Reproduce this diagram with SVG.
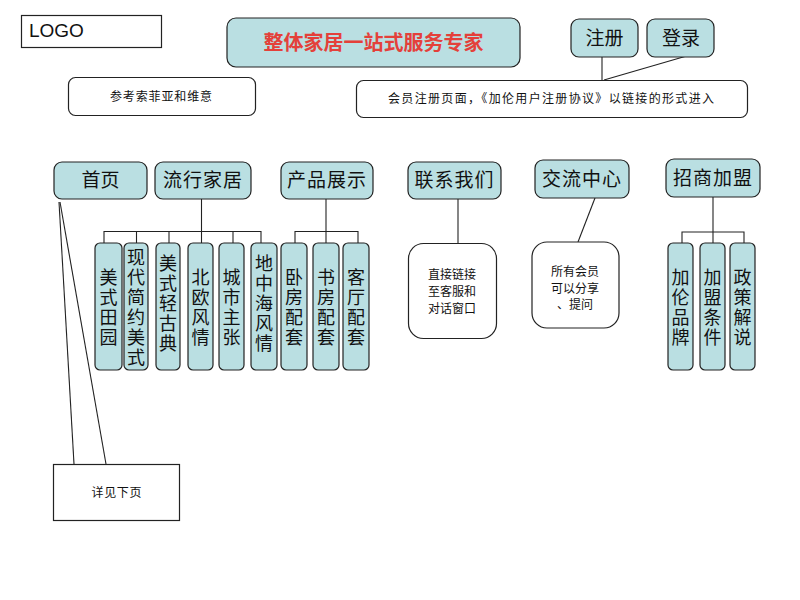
<svg xmlns="http://www.w3.org/2000/svg" width="800" height="600" viewBox="0 0 800 600">
<style>
.bx{fill:#badfe2;stroke:#222;stroke-width:1.2}
.wb{fill:#fff;stroke:#222;stroke-width:1.2}
.ln{stroke:#222;stroke-width:1.1;fill:none}
.t{font-family:"Noto Sans CJK SC","Liberation Sans",sans-serif;fill:#111;text-anchor:middle}
.big{font-size:19px}
.sm{font-size:12px}
.v{font-size:18px;writing-mode:vertical-rl;letter-spacing:2px}
</style>
<rect width="800" height="600" fill="#fff"/>
<g id="connectors">
<line class="ln" x1="602" y1="57" x2="602" y2="80"/>
<line class="ln" x1="690" y1="55" x2="604" y2="80"/>
<line class="ln" x1="201.5" y1="199" x2="201.5" y2="231.5"/>
<polyline class="ln" points="104,243 104,231.5 261,231.5 261,243"/>
<line class="ln" x1="136.5" y1="231.5" x2="136.5" y2="243"/>
<line class="ln" x1="169" y1="231.5" x2="169" y2="243"/>
<line class="ln" x1="201.5" y1="231.5" x2="201.5" y2="243"/>
<line class="ln" x1="233" y1="231.5" x2="233" y2="243"/>
<line class="ln" x1="326" y1="199" x2="326" y2="243"/>
<polyline class="ln" points="295,243 295,231.5 358,231.5 358,243"/>
<line class="ln" x1="458" y1="199" x2="458" y2="243"/>
<line class="ln" x1="595" y1="198" x2="578" y2="242"/>
<line class="ln" x1="713" y1="197" x2="713" y2="243"/>
<polyline class="ln" points="682,243 682,232 744,232 744,243"/>
<line class="ln" x1="59" y1="202" x2="74" y2="464"/>
<line class="ln" x1="60" y1="202" x2="106" y2="464"/>
</g>
<g id="logo">
<rect x="21.5" y="15.5" width="140" height="32" fill="#fff" stroke="#222" stroke-width="1.2"/>
<text x="29" y="37" font-family="Liberation Sans,Arial,sans-serif" font-size="19" fill="#111">LOGO</text>
</g>
<g id="title">
<rect class="bx" x="227" y="18" width="293" height="49" rx="9"/>
<text class="t" x="373.5" y="50" font-size="20" font-weight="bold" style="fill:#e4403a">整体家居一站式服务专家</text>
</g>
<g id="register">
<rect class="bx" x="571" y="19" width="67" height="38" rx="8"/>
<text class="t big" x="604.5" y="45">注册</text>
</g>
<g id="login">
<rect class="bx" x="647" y="19" width="67" height="38" rx="8"/>
<text class="t big" x="681" y="45">登录</text>
</g>
<g id="ref">
<rect class="wb" x="68.5" y="77.5" width="187" height="38" rx="7"/>
<text class="t sm" x="161" y="101" textLength="102" lengthAdjust="spacing">参考索菲亚和维意</text>
</g>
<g id="regnote">
<rect class="wb" x="356.5" y="80.5" width="391" height="37" rx="7"/>
<text class="t sm" x="551" y="103" textLength="326" lengthAdjust="spacing">会员注册页面，《加伦用户注册协议》以链接的形式进入</text>
</g>
<g id="home">
<rect class="bx" x="54" y="162" width="93" height="37" rx="8"/>
<text class="t big" x="100.5" y="187">首页</text>
</g>
<g id="popular">
<rect class="bx" x="155" y="162" width="96" height="37" rx="8"/>
<text class="t big" x="203" y="187" letter-spacing="1">流行家居</text>
</g>
<g id="products">
<rect class="bx" x="281" y="162" width="92" height="37" rx="8"/>
<text class="t big" x="327" y="187" letter-spacing="1">产品展示</text>
</g>
<g id="contact">
<rect class="bx" x="408" y="162" width="93" height="37" rx="8"/>
<text class="t big" x="454.5" y="187" letter-spacing="1">联系我们</text>
</g>
<g id="community">
<rect class="bx" x="535" y="160" width="94" height="38" rx="8"/>
<text class="t big" x="582" y="186" letter-spacing="1">交流中心</text>
</g>
<g id="franchise">
<rect class="bx" x="666" y="159" width="94" height="38" rx="8"/>
<text class="t big" x="713" y="185" letter-spacing="1">招商加盟</text>
</g>
<g id="c1"><rect class="bx" x="95" y="243" width="27" height="127" rx="5"/>
<text class="t v" x="108.5" y="308">美式田园</text></g>
<g id="c2"><rect class="bx" x="124" y="243" width="24" height="127" rx="5"/>
<text class="t v" x="136" y="308">现代简约美式</text></g>
<g id="c3"><rect class="bx" x="156" y="243" width="24" height="127" rx="5"/>
<text class="t v" x="168" y="304">美式轻古典</text></g>
<g id="c4"><rect class="bx" x="188" y="243" width="25" height="127" rx="5"/>
<text class="t v" x="200.5" y="308">北欧风情</text></g>
<g id="c5"><rect class="bx" x="219" y="243" width="25" height="127" rx="5"/>
<text class="t v" x="231.5" y="308">城市主张</text></g>
<g id="c6"><rect class="bx" x="251" y="243" width="26" height="127" rx="5"/>
<text class="t v" x="264" y="304">地中海风情</text></g>
<g id="c7"><rect class="bx" x="281" y="243" width="26" height="127" rx="5"/>
<text class="t v" x="294" y="308">卧房配套</text></g>
<g id="c8"><rect class="bx" x="313" y="243" width="26" height="127" rx="5"/>
<text class="t v" x="326" y="308">书房配套</text></g>
<g id="c9"><rect class="bx" x="343" y="243" width="26" height="127" rx="5"/>
<text class="t v" x="356" y="308">客厅配套</text></g>
<g id="contactnote"><rect class="wb" x="408.5" y="243.5" width="88" height="95" rx="15"/>
<text class="t sm" x="452"><tspan x="452" y="279">直接链接</tspan><tspan x="452" y="296">至客服和</tspan><tspan x="452" y="313">对话窗口</tspan></text></g>
<g id="communitynote"><rect class="wb" x="532" y="242" width="87" height="86" rx="15"/>
<text class="t sm" x="575"><tspan x="575" y="276">所有会员</tspan><tspan x="575" y="293">可以分享</tspan><tspan x="575" y="309">、提问</tspan></text></g>
<g id="f1"><rect class="bx" x="668" y="243" width="25" height="127" rx="5"/>
<text class="t v" x="680.5" y="308">加伦品牌</text></g>
<g id="f2"><rect class="bx" x="700" y="243" width="25" height="127" rx="5"/>
<text class="t v" x="712.5" y="308">加盟条件</text></g>
<g id="f3"><rect class="bx" x="730" y="243" width="25" height="127" rx="5"/>
<text class="t v" x="742.5" y="308">政策解说</text></g>
<g id="detail"><rect x="53.5" y="464.5" width="126" height="56" fill="#fff" stroke="#222" stroke-width="1.2"/>
<text class="t sm" x="116.5" y="497" textLength="50" lengthAdjust="spacing">详见下页</text></g>
</svg>
